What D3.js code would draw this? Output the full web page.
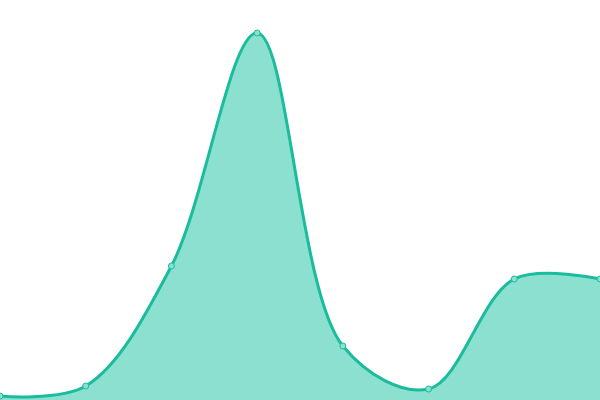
<!DOCTYPE html>
<html>
<head>
<meta charset="UTF-8">
<style>
  body { margin: 0; background: #fff; }
  svg { display: block; }
</style>
</head>
<body>
<svg id="chart" width="600" height="400"></svg>
<script src="https://d3js.org/d3.v7.min.js"></script>
<script>
  const labels = [0, 1, 2, 3, 4, 5, 6, 7];
  const values = [4, 14, 134, 367, 54, 11, 121, 121];

  const W = 600, H = 400;
  const svg = d3.select("#chart");

  const x = d3.scalePoint().domain(labels).range([0, W]);
  const y = d3.scaleLinear().domain([0, 400]).range([H, 0]);

  const curve = d3.curveCatmullRom.alpha(0.5);

  const area = d3.area()
    .x((d, i) => x(labels[i]))
    .y0(H)
    .y1(d => y(d))
    .curve(curve);

  const line = d3.line()
    .x((d, i) => x(labels[i]))
    .y(d => y(d))
    .curve(curve);

  svg.append("path")
    .datum(values)
    .attr("d", area)
    .attr("fill", "#8be0cf");

  svg.append("path")
    .datum(values)
    .attr("d", line)
    .attr("fill", "none")
    .attr("stroke", "#1abc9c")
    .attr("stroke-width", 3);

  svg.selectAll(".pt")
    .data(values)
    .enter().append("circle")
    .attr("class", "pt")
    .attr("cx", (d, i) => x(labels[i]))
    .attr("cy", d => y(d))
    .attr("r", 3)
    .attr("fill", "#8be0cf")
    .attr("stroke", "#1abc9c")
    .attr("stroke-width", 1);
</script>
</body>
</html>
